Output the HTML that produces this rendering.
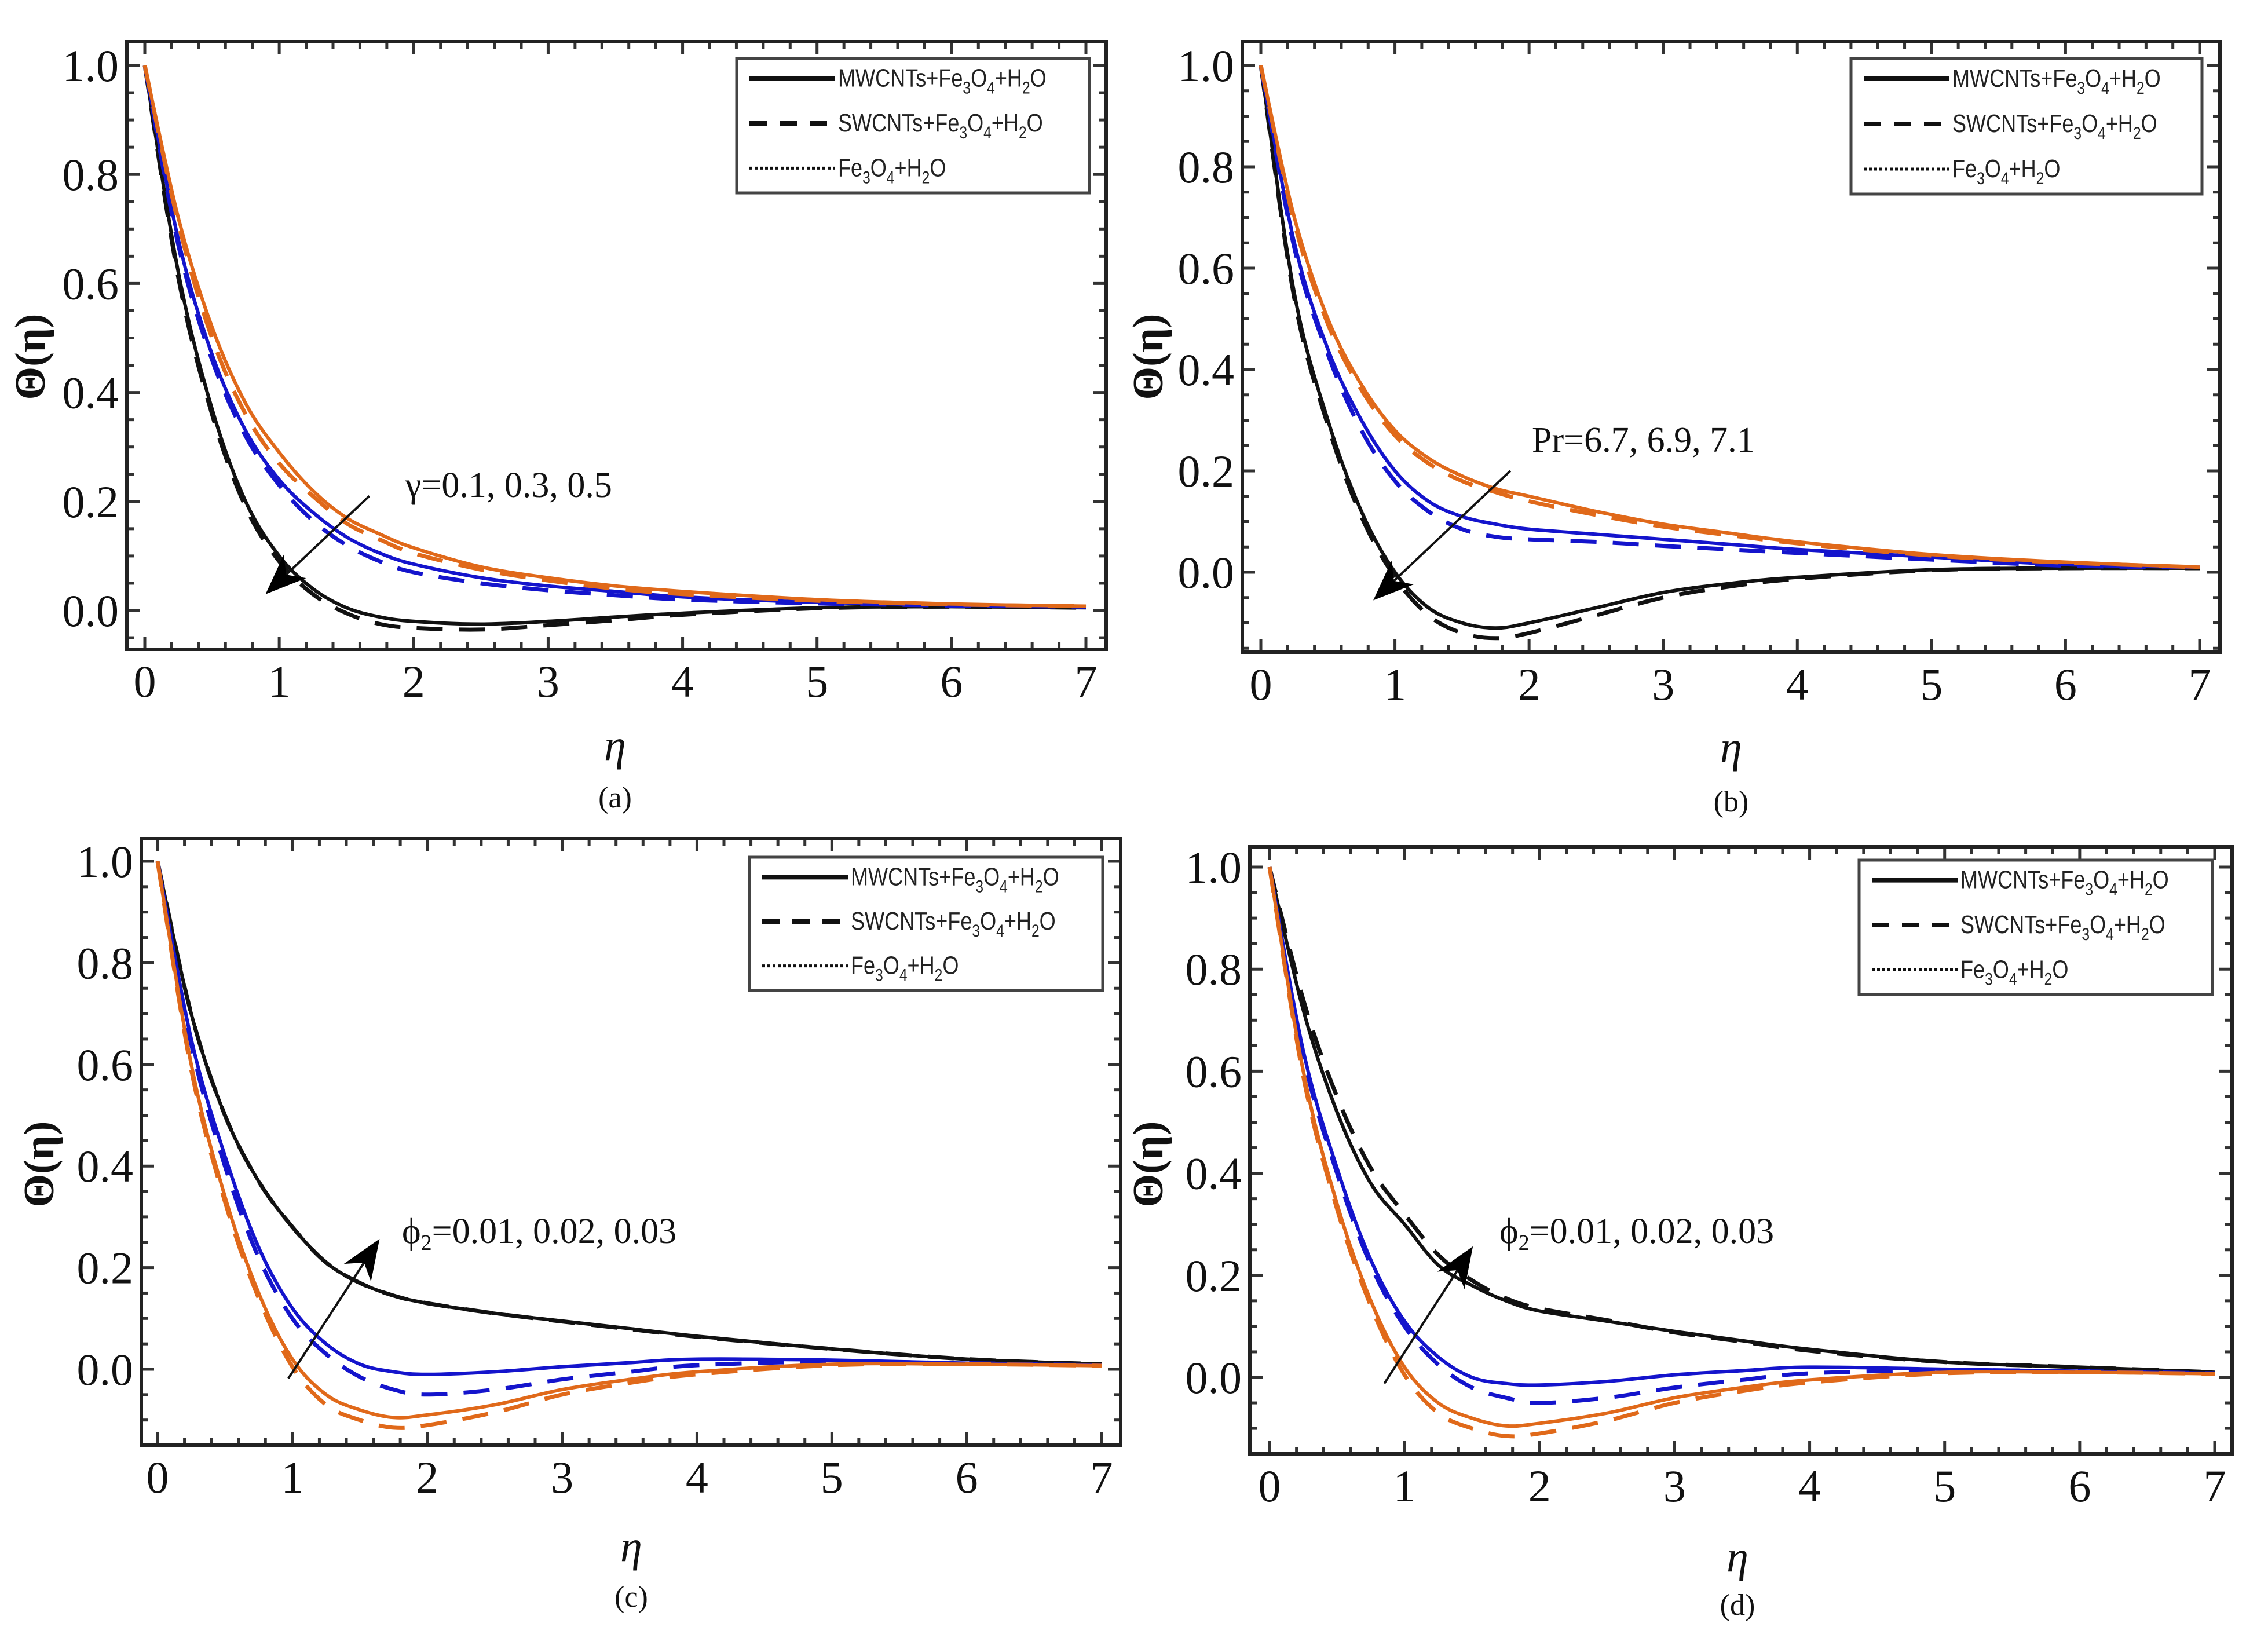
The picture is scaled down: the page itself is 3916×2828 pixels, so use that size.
<!DOCTYPE html>
<html><head><meta charset="utf-8"><title>Theta profiles</title>
<style>
html,body{margin:0;padding:0;background:#fff;}
svg{display:block;}
</style></head>
<body>
<svg id="chart" width="3916" height="2828" viewBox="0 0 3916 2828" xmlns="http://www.w3.org/2000/svg"></svg>
<script>
// ---------- data ----------
const etaPoints = [0,0.25,0.5,0.75,1,1.25,1.5,1.75,2,2.5,3,3.5,4,5,6,7];
const xTicks = [0,1,2,3,4,5,6,7];
const yTickLabels = ["0.0","0.2","0.4","0.6","0.8","1.0"];
const yTickValues = [0,0.2,0.4,0.6,0.8,1.0];
const legendLabels = ["MWCNTs+Fe3O4+H2O","SWCNTs+Fe3O4+H2O","Fe3O4+H2O"];
const panelLetters = ["(a)","(b)","(c)","(d)"];
const annotations = ["γ=0.1, 0.3, 0.5","Pr=6.7, 6.9, 7.1","ϕ2=0.01, 0.02, 0.03","ϕ2=0.01, 0.02, 0.03"];

// panel (a)
const aOrangeSolid = [1,0.72,0.52,0.38,0.29,0.22,0.17,0.14,0.115,0.08,0.06,0.045,0.035,0.02,0.012,0.008];
const aOrangeDash  = [1,0.71,0.50,0.36,0.27,0.21,0.16,0.13,0.105,0.075,0.055,0.04,0.03,0.018,0.011,0.008];
const aBlueSolid   = [1,0.68,0.47,0.33,0.24,0.18,0.135,0.105,0.085,0.06,0.045,0.035,0.025,0.015,0.01,0.007];
const aBlueDash    = [1,0.67,0.46,0.32,0.23,0.165,0.12,0.09,0.07,0.05,0.037,0.028,0.02,0.013,0.009,0.007];
const aBlackSolid  = [1,0.62,0.37,0.20,0.10,0.04,0.005,-0.012,-0.02,-0.025,-0.02,-0.012,-0.005,0.005,0.007,0.005];
const aBlackDash   = [1,0.61,0.36,0.19,0.09,0.03,-0.005,-0.025,-0.032,-0.035,-0.027,-0.018,-0.008,0.004,0.007,0.005];

// panel (b)
const bOrangeSolid = [1,0.70,0.50,0.37,0.28,0.225,0.19,0.165,0.15,0.12,0.095,0.077,0.06,0.035,0.02,0.01];
const bOrangeDash  = [1,0.69,0.49,0.36,0.27,0.215,0.18,0.158,0.14,0.113,0.09,0.073,0.057,0.033,0.019,0.01];
const bBlueSolid   = [1,0.65,0.44,0.30,0.20,0.14,0.11,0.095,0.085,0.075,0.065,0.055,0.045,0.03,0.015,0.01];
const bBlueDash    = [1,0.64,0.43,0.28,0.18,0.12,0.085,0.07,0.065,0.06,0.052,0.045,0.038,0.025,0.013,0.01];
const bBlackSolid  = [1,0.55,0.30,0.12,0.0,-0.07,-0.10,-0.11,-0.10,-0.07,-0.04,-0.022,-0.01,0.005,0.008,0.008];
const bBlackDash   = [1,0.54,0.29,0.11,-0.01,-0.085,-0.12,-0.13,-0.12,-0.085,-0.05,-0.028,-0.013,0.004,0.008,0.008];

// panel (c)
const cBlackSolid  = [1,0.70,0.50,0.37,0.28,0.21,0.17,0.145,0.13,0.11,0.095,0.08,0.065,0.04,0.02,0.01];
const cBlackDash   = [1,0.70,0.50,0.37,0.28,0.21,0.17,0.145,0.13,0.11,0.094,0.079,0.064,0.04,0.02,0.01];
const cBlueSolid   = [1,0.65,0.42,0.24,0.12,0.05,0.01,-0.005,-0.01,-0.005,0.005,0.013,0.02,0.018,0.012,0.008];
const cBlueDash    = [1,0.64,0.40,0.22,0.10,0.03,-0.015,-0.04,-0.05,-0.04,-0.02,-0.005,0.008,0.015,0.012,0.008];
const cOrangeSolid = [1,0.60,0.34,0.15,0.02,-0.05,-0.08,-0.095,-0.09,-0.07,-0.04,-0.02,-0.005,0.01,0.01,0.007];
const cOrangeDash  = [1,0.59,0.33,0.14,0.005,-0.07,-0.10,-0.115,-0.11,-0.085,-0.05,-0.027,-0.01,0.008,0.01,0.007];

// panel (d)
const dBlackSolid  = [1,0.72,0.52,0.38,0.30,0.22,0.18,0.15,0.13,0.11,0.09,0.072,0.055,0.03,0.02,0.01];
const dBlackDash   = [1,0.74,0.55,0.41,0.32,0.24,0.19,0.155,0.135,0.112,0.088,0.07,0.052,0.03,0.02,0.01];
const dBlueSolid   = [1,0.64,0.41,0.23,0.11,0.04,0.0,-0.012,-0.015,-0.008,0.005,0.013,0.02,0.016,0.012,0.008];
const dBlueDash    = [1,0.63,0.40,0.22,0.10,0.025,-0.02,-0.04,-0.05,-0.04,-0.02,-0.005,0.008,0.014,0.012,0.008];
const dOrangeSolid = [1,0.60,0.34,0.15,0.02,-0.05,-0.08,-0.095,-0.09,-0.07,-0.04,-0.02,-0.005,0.01,0.01,0.007];
const dOrangeDash  = [1,0.59,0.33,0.14,0.005,-0.07,-0.10,-0.115,-0.11,-0.085,-0.05,-0.027,-0.01,0.008,0.01,0.007];

// arrows [x1,y1,x2(head),y2(head)] in data coords
const arrowA = [1.67,0.21,0.92,0.035];
const arrowB = [1.86,0.20,0.86,-0.05];
const arrowC = [0.97,-0.018,1.63,0.25];
const arrowD = [0.85,-0.012,1.49,0.25];

// ---------- layout (pixel geometry, not data) ----------
const layouts = [
  {frame:[219,72,1910,1121], x0:250, x7:1875, y1:113, y0:1054, legend:[1272,101,1881,333], ann:[700,838], eta:[1062,1287], letter:[1062,1378], ylab:[55,616]},
  {frame:[2145,72,3833,1126], x0:2177, x7:3798, y1:113, y0:988, legend:[3196,101,3802,335], ann:[2645,760], eta:[2989,1290], letter:[2989,1385], ylab:[1985,616]},
  {frame:[244,1448,1935,2495], x0:272, x7:1902, y1:1487, y0:2364, legend:[1294,1480,1904,1710], ann:[694,2126], eta:[1090,2670], letter:[1090,2758], ylab:[70,2010]},
  {frame:[2158,1462,3854,2510], x0:2192, x7:3824, y1:1497, y0:2378, legend:[3210,1485,3820,1717], ann:[2589,2126], eta:[3000,2688], letter:[3000,2772], ylab:[1985,2010]}
];
const series = [
  [[aBlackSolid,aBlackDash],[aBlueSolid,aBlueDash],[aOrangeSolid,aOrangeDash]],
  [[bBlackSolid,bBlackDash],[bBlueSolid,bBlueDash],[bOrangeSolid,bOrangeDash]],
  [[cBlackSolid,cBlackDash],[cBlueSolid,cBlueDash],[cOrangeSolid,cOrangeDash]],
  [[dBlackSolid,dBlackDash],[dBlueSolid,dBlueDash],[dOrangeSolid,dOrangeDash]]
];
const arrows = [arrowA,arrowB,arrowC,arrowD];
const colors = ["#111111","#1414cc","#e0691a"];
const colorNames = ["black","blue","orange"];

const NS = "http://www.w3.org/2000/svg";
const svg = document.getElementById("chart");
function mk(tag, attrs, parent){
  const e = document.createElementNS(NS, tag);
  for (const k in attrs) e.setAttribute(k, attrs[k]);
  (parent||svg).appendChild(e);
  return e;
}
function smoothPath(pts){
  let d = "M"+pts[0][0].toFixed(1)+","+pts[0][1].toFixed(1);
  for (let i=0;i<pts.length-1;i++){
    const p0=pts[Math.max(0,i-1)], p1=pts[i], p2=pts[i+1], p3=pts[Math.min(pts.length-1,i+2)];
    const c1=[p1[0]+(p2[0]-p0[0])/6, p1[1]+(p2[1]-p0[1])/6];
    const c2=[p2[0]-(p3[0]-p1[0])/6, p2[1]-(p3[1]-p1[1])/6];
    d += " C"+c1[0].toFixed(1)+","+c1[1].toFixed(1)+" "+c2[0].toFixed(1)+","+c2[1].toFixed(1)+" "+p2[0].toFixed(1)+","+p2[1].toFixed(1);
  }
  return d;
}
const defs = mk("defs",{});
const marker = mk("marker",{id:"arrowhead",viewBox:"0 0 10 10",refX:"9",refY:"5",markerWidth:"70",markerHeight:"70",orient:"auto",markerUnits:"userSpaceOnUse"},defs);
mk("path",{d:"M0,1 L10,5 L0,9 L3,5 Z",fill:"#000"},marker);

function legendText(g, x, y, label){
  const t = mk("text",{x:0,y:0,"font-family":"Liberation Sans, sans-serif","font-size":"44","fill":"#222",transform:"translate("+x+","+y+") scale(0.82,1)"},g);
  const tokens = label.split(/(\d)/);
  let prevDigit = false;
  tokens.forEach(tok=>{
    if(!tok) return;
    const ts = mk("tspan",{},t);
    if(/^\d$/.test(tok)){ ts.setAttribute("font-size","30"); ts.setAttribute("dy","12"); prevDigit=true; }
    else { if (prevDigit) ts.setAttribute("dy","-12"); prevDigit=false; }
    ts.textContent = tok;
  });
  return t;
}

layouts.forEach((L, pi)=>{
  const g = mk("g",{});
  
  
  const xs = v => L.x0 + (L.x7-L.x0)*v/7;
  const ys = v => L.y0 - (L.y0-L.y1)*v;
  const [fl,ft,fr,fb] = L.frame;

  const cp = mk("clipPath",{id:"clip"+pi},defs);
  mk("rect",{x:fl,y:ft,width:fr-fl,height:fb-ft},cp);

  const tg = mk("g",{stroke:"#333","stroke-width":"5"},g);
  
  
  for (let v=0; v<=7.0001; v+=0.2){
    const major = Math.abs(v-Math.round(v))<1e-6;
    const len = major?22:12;
    const x = xs(v);
    if (x<fl||x>fr) continue;
    mk("line",{x1:x,y1:fb,x2:x,y2:fb-len},tg);
    mk("line",{x1:x,y1:ft,x2:x,y2:ft+len},tg);
  }
  for (let v=-0.2; v<=1.05; v+=0.05){
    const y = ys(v);
    if (y<ft||y>fb) continue;
    const major = Math.abs(v*5-Math.round(v*5))<1e-6;
    const len = major?22:12;
    mk("line",{x1:fl,y1:y,x2:fl+len,y2:y},tg);
    mk("line",{x1:fr,y1:y,x2:fr-len,y2:y},tg);
  }

  const cg = mk("g",{"clip-path":"url(#clip"+pi+")",fill:"none"},g);
  series[pi].forEach((pair, ci)=>{
    const [solid, dash] = pair;
    const solidPts = etaPoints.map((e,k)=>[xs(e), ys(solid[k])]);
    const dashPts = etaPoints.map((e,k)=>[xs(e), ys(dash[k])]);
    const p1 = mk("path",{d:smoothPath(solidPts),stroke:colors[ci],"stroke-width":"6"},cg);
    
    
    const p2 = mk("path",{d:smoothPath(dashPts),stroke:colors[ci],"stroke-width":"7","stroke-dasharray":"45,28"},cg);
    
    
    const p3 = mk("path",{d:smoothPath(solidPts),stroke:colors[ci],"stroke-width":"4","stroke-dasharray":"5,5",opacity:"0.8"},cg);
    
    
  });

  const fr_ = mk("rect",{x:fl,y:ft,width:fr-fl,height:fb-ft,fill:"none",stroke:"#222","stroke-width":"6"},g);
  
  

  xTicks.forEach(v=>{
    const t = mk("text",{x:xs(v),y:fb+82,"text-anchor":"middle","font-family":"Liberation Serif, serif","font-size":"78",fill:"#111"},g);
    
    
    t.textContent = v;
  });
  yTickValues.forEach((v,k)=>{
    const t = mk("text",{x:fl-14,y:ys(v)+27,"text-anchor":"end","font-family":"Liberation Serif, serif","font-size":"78",fill:"#111"},g);
    
    
    t.textContent = yTickLabels[k];
  });

  const xt = mk("text",{x:L.eta[0],y:L.eta[1]+25,"text-anchor":"middle","font-family":"Liberation Serif, serif","font-size":"76","font-style":"italic",fill:"#111"},g);
  
  
  xt.textContent = "η";
  const lt = mk("text",{x:L.letter[0],y:L.letter[1]+16,"text-anchor":"middle","font-family":"Liberation Serif, serif","font-size":"52",fill:"#111"},g);
  
  
  lt.textContent = panelLetters[pi];
  const yt = mk("text",{x:0,y:0,"text-anchor":"middle","font-family":"Liberation Serif, serif","font-size":"74","font-weight":"bold",fill:"#111",transform:"translate("+(L.ylab[0]+22)+","+L.ylab[1]+") rotate(-90)"},g);
  
  
  yt.textContent = "Θ(η)";

  const [lx1,ly1,lx2,ly2] = L.legend;
  const lg = mk("g",{},g);
  
  
  mk("rect",{x:lx1,y:ly1,width:lx2-lx1,height:ly2-ly1,fill:"#fff",stroke:"#444","stroke-width":"5"},lg);
  const rowH = (ly2-ly1)/3;
  const styles = [{w:"8",da:""},{w:"8",da:"30,22"},{w:"5",da:"5,4"}];
  legendLabels.forEach((lab,k)=>{
    const cy = ly1 + rowH*(k+0.5) - 4;
    const le = mk("g",{},lg);
    
    
    const ln = mk("line",{x1:lx1+22,y1:cy,x2:lx1+170,y2:cy,stroke:"#111","stroke-width":styles[k].w},le);
    if (styles[k].da) ln.setAttribute("stroke-dasharray",styles[k].da);
    legendText(le, lx1+175, cy+14, lab);
  });

  const an = mk("text",{x:L.ann[0],y:L.ann[1]+20,"font-family":"Liberation Serif, serif","font-size":"62",fill:"#111"},g);
  
  
  const annTxt = annotations[pi];
  if (annTxt.startsWith("ϕ2")){
    const s1 = mk("tspan",{},an); s1.textContent="ϕ";
    const s2 = mk("tspan",{"font-size":"38",dy:"12"},an); s2.textContent="2";
    const s3 = mk("tspan",{dy:"-12"},an); s3.textContent=annTxt.slice(2);
  } else an.textContent = annTxt;
  const A = arrows[pi];
  const ar = mk("line",{x1:xs(A[0]),y1:ys(A[1]),x2:xs(A[2]),y2:ys(A[3]),stroke:"#111","stroke-width":"4","marker-end":"url(#arrowhead)"},g);
  
  
});
</script>
</body></html>
